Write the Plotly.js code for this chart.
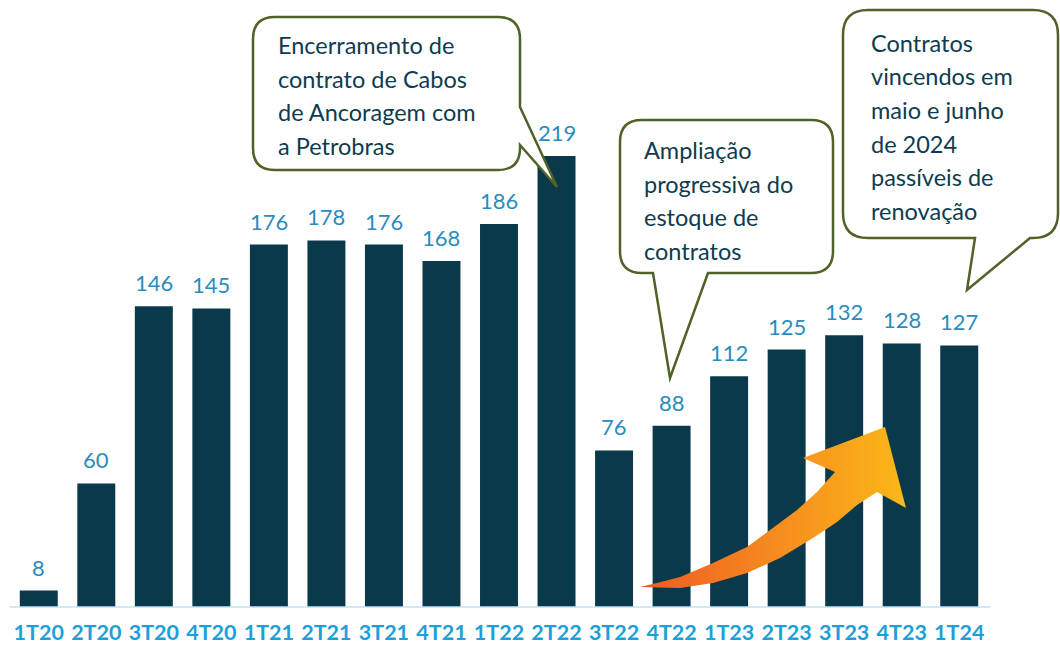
<!DOCTYPE html>
<html><head><meta charset="utf-8">
<script src="https://cdn.plot.ly/plotly-3.0.1.min.js"></script>
<style>html,body{margin:0;padding:0;background:#fff}#c{width:1060px;height:646px}</style>
</head><body><div id="c"></div>
<script>
const quarters = ["1T20","2T20","3T20","4T20","1T21","2T21","3T21","4T21","1T22","2T22","3T22","4T22","1T23","2T23","3T23","4T23","1T24"];
const contracts = [8,60,146,145,176,178,176,168,186,219,76,88,112,125,132,128,127];

const callout1 = ["Encerramento de","contrato de Cabos","de Ancoragem com","a Petrobras"];
const callout2 = ["Ampliação","progressiva do","estoque de","contratos"];
const callout3 = ["Contratos","vincendos em","maio e junho","de 2024","passíveis de","renovação"];

const W=1060,H=646, ML=10, MR=72, MT=10, MB=39;
const PW=W-ML-MR, PH=H-MT-MB;
function px(x){return (x-ML)/PW;}
function py(y){return (H-MB-y)/PH;}
function P(x,y){return px(x).toFixed(5)+','+py(y).toFixed(5);}

function boxPath(L,T,R,B,r,tail){
  let d='M'+P(L+r,T)+' L'+P(R-r,T)+' Q'+P(R,T)+' '+P(R,T+r);
  if(tail.side==='right'){ d+=' L'+P(R,tail.a)+' L'+P(tail.tx,tail.ty)+' L'+P(R,tail.b); }
  d+=' L'+P(R,B-r)+' Q'+P(R,B)+' '+P(R-r,B);
  if(tail.side==='bottom'){ d+=' L'+P(tail.b,B)+' L'+P(tail.tx,tail.ty)+' L'+P(tail.a,B); }
  d+=' L'+P(L+r,B)+' Q'+P(L,B)+' '+P(L,B-r)+' L'+P(L,T+r)+' Q'+P(L,T)+' '+P(L+r,T)+' Z';
  return d;
}

const border='#4f6228', txtCol='#0d3c50';
const shapes=[
 {type:'path',xref:'paper',yref:'paper',path:boxPath(253,17,520,170,22,{side:'right',a:107,b:145,tx:557,ty:187}),line:{color:border,width:2.5},fillcolor:'#ffffff',layer:'above'},
 {type:'path',xref:'paper',yref:'paper',path:boxPath(620,120,833,273,22,{side:'bottom',a:653,b:708,tx:670,ty:378}),line:{color:border,width:2.5},fillcolor:'#ffffff',layer:'above'},
 {type:'path',xref:'paper',yref:'paper',path:boxPath(843,10,1058,238,25,{side:'bottom',a:975,b:1030,tx:967,ty:290}),line:{color:border,width:2.5},fillcolor:'#ffffff',layer:'above'},
 {type:'line',xref:'paper',yref:'paper',x0:px(10),x1:px(990),y0:0,y1:0,line:{color:'#bfe3f3',width:1.5}}
];

const annotations=[];
contracts.forEach((v,i)=>{
  annotations.push({x:quarters[i],y:v,xref:'x',yref:'y',text:String(v),showarrow:false,yanchor:'bottom',yshift:8,
    font:{family:'Lato, sans-serif',size:22,color:'#2a8cbe'}});
});
function addLines(lines,x,y0,step){
  lines.forEach((t,i)=>annotations.push({xref:'paper',yref:'paper',x:px(x),y:py(y0+i*step),text:t,showarrow:false,
    xanchor:'left',yanchor:'middle',font:{family:'Lato, sans-serif',size:23.5,color:txtCol}}));
}
addLines(callout1,276,45,33.5);
addLines(callout2,642,150,33.5);
addLines(callout3,869,43,33.5);

// decorative arrow in pixel overlay
const arrowX=[640,680,713,747,780,813,837,857,877,906,885,803,835,817,797,773,747,713,680,657,640];
const arrowY=[587,588,583,573,558,538,522,505,492,508,427,458,472,492,510,528,547,563,577,583,587];

const data=[
 {type:'bar',x:quarters,y:contracts,marker:{color:'#0a394b'},hoverinfo:'x+y'},
 {type:'scatter',x:arrowX,y:arrowY,xaxis:'x2',yaxis:'y2',mode:'lines',line:{width:0,color:'rgba(0,0,0,0)'},
  fill:'toself',fillcolor:'#f7941d',
  fillgradient:{type:'horizontal',colorscale:[[0,'#ee5a24'],[0.5,'#f68a1f'],[1,'#fbb818']]},hoverinfo:'skip'}
];

const layout={
  width:W,height:H,margin:{l:ML,r:MR,t:MT,b:MB},
  paper_bgcolor:'#fff',plot_bgcolor:'#fff',showlegend:false,bargap:0.34,
  xaxis:{type:'category',range:[-0.5,16.5],showgrid:false,zeroline:false,showline:false,ticks:'',
    ticklabelstandoff:10,tickfont:{family:'Lato, sans-serif',size:21.5,color:'#1ba0da',weight:'bold'}},
  yaxis:{range:[0,PH/((607-156)/219)],showgrid:false,zeroline:false,showticklabels:false,ticks:''},
  xaxis2:{overlaying:'x',range:[ML,W-MR],visible:false,anchor:'y2'},
  yaxis2:{overlaying:'y',range:[H-MB,MT],visible:false,anchor:'x2'},
  shapes:shapes,annotations:annotations
};
Plotly.newPlot('c',data,layout,{displayModeBar:false,staticPlot:true});
</script></body></html>
